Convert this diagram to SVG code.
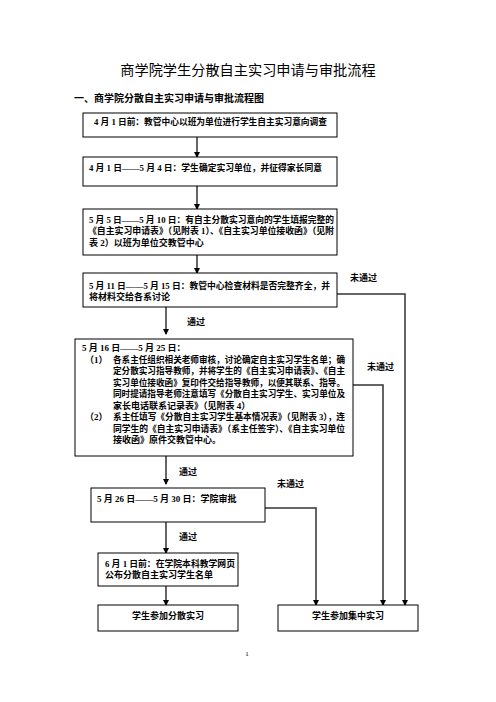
<svg xmlns="http://www.w3.org/2000/svg" width="496" height="702" viewBox="0 0 496 702">
<defs>
<marker id="ah" markerWidth="6" markerHeight="6" refX="5" refY="3" orient="auto" markerUnits="userSpaceOnUse">
<path d="M0,0 L6,3 L0,6 Z" fill="#000"/>
</marker>
<style>
.box{fill:#fff;stroke:#000;stroke-width:1}
.t{font-family:"Liberation Serif","Noto Sans CJK SC",serif;font-size:9px;font-weight:bold;fill:#000}
.c{stroke:#000;stroke-width:1.2;fill:none}
.g{stroke:#333;stroke-width:1.5;fill:none}
.lbl{font-family:"Liberation Serif","Noto Sans CJK SC",serif;font-size:9px;font-weight:bold;fill:#000}
</style>
</defs>
<rect width="496" height="702" fill="#fff"/>
<text x="248" y="75" text-anchor="middle" style="font-family:'Noto Sans CJK SC',sans-serif;font-size:14.2px;fill:#000">商学院学生分散自主实习申请与审批流程</text>
<text x="74" y="102" style="font-family:'Noto Sans CJK SC',sans-serif;font-size:10px;font-weight:bold;fill:#000">一、商学院分散自主实习申请与审批流程图</text>

<g id="connectors">
<line class="c" x1="197" y1="137" x2="197" y2="157" marker-end="url(#ah)"/>
<line class="c" x1="197" y1="186" x2="197" y2="209" marker-end="url(#ah)"/>
<line class="c" x1="197" y1="255" x2="197" y2="273" marker-end="url(#ah)"/>
<line class="c" x1="166" y1="307" x2="166" y2="334" marker-end="url(#ah)"/>
<line class="c" x1="166" y1="456" x2="166" y2="484" marker-end="url(#ah)"/>
<line class="c" x1="166" y1="522" x2="166" y2="553" marker-end="url(#ah)"/>
<line class="c" x1="166" y1="586" x2="166" y2="605" marker-end="url(#ah)"/>
<polyline class="g" points="337,294 405,294 405,605" marker-end="url(#ah)"/>
<polyline class="g" points="353,385 383,385 383,605" marker-end="url(#ah)"/>
<polyline class="g" points="265,508 316,508 316,605" marker-end="url(#ah)"/>
<text class="lbl" x="350" y="281">未通过</text>
<text class="lbl" x="187" y="325">通过</text>
<text class="lbl" x="367" y="370">未通过</text>
<text class="lbl" x="179" y="475">通过</text>
<text class="lbl" x="277" y="487">未通过</text>
<text class="lbl" x="179" y="540">通过</text>
</g>

<g id="n1">
<rect class="box" x="83" y="113" width="254" height="24"/>
<text class="t" x="94" y="124.5" textLength="233" lengthAdjust="spacingAndGlyphs">4 月 1 日前：教管中心以班为单位进行学生自主实习意向调查</text>
</g>
<g id="n2">
<rect class="box" x="83" y="157" width="254" height="29"/>
<text class="t" x="89" y="170.5" textLength="233" lengthAdjust="spacingAndGlyphs">4 月 1 日——5 月 4 日：学生确定实习单位，并征得家长同意</text>
</g>
<g id="n3">
<rect class="box" x="83" y="209" width="254" height="46"/>
<text class="t" x="89" y="222.5" textLength="245" lengthAdjust="spacingAndGlyphs">5 月 5 日——5 月 10 日：有自主分散实习意向的学生填报完整的</text>
<text class="t" x="88" y="233.5" textLength="246" lengthAdjust="spacingAndGlyphs">《自主实习申请表》（见附表 1）、《自主实习单位接收函》（见附</text>
<text class="t" x="89" y="245.5">表 2）以班为单位交教管中心</text>
</g>
<g id="n4">
<rect class="box" x="83" y="273" width="254" height="34"/>
<text class="t" x="89" y="288.5" textLength="241" lengthAdjust="spacingAndGlyphs">5 月 11 日——5 月 15 日：教管中心检查材料是否完整齐全，并</text>
<text class="t" x="89" y="299.5">将材料交给各系讨论</text>
</g>
<g id="n5">
<rect class="box" x="75" y="339" width="278" height="117"/>
<text class="t" x="82" y="350.5">5 月 16 日——5 月 25 日：</text>
<text class="t" x="85" y="362.5">（1）</text>
<text class="t" x="113" y="362.5" textLength="232" lengthAdjust="spacingAndGlyphs">各系主任组织相关老师审核，讨论确定自主实习学生名单；确</text>
<text class="t" x="113" y="374" textLength="232" lengthAdjust="spacingAndGlyphs">定分散实习指导教师，并将学生的《自主实习申请表》、《自主</text>
<text class="t" x="113" y="385.5" textLength="232" lengthAdjust="spacingAndGlyphs">实习单位接收函》复印件交给指导教师，以便其联系、指导。</text>
<text class="t" x="113" y="397" textLength="232" lengthAdjust="spacingAndGlyphs">同时提请指导老师注意填写《分散自主实习学生、实习单位及</text>
<text class="t" x="113" y="408.5">家长电话联系记录表》（见附表 4）</text>
<text class="t" x="85" y="420">（2）</text>
<text class="t" x="113" y="420" textLength="232" lengthAdjust="spacingAndGlyphs">系主任填写《分散自主实习学生基本情况表》（见附表 3），连</text>
<text class="t" x="113" y="431.5" textLength="232" lengthAdjust="spacingAndGlyphs">同学生的《自主实习申请表》（系主任签字）、《自主实习单位</text>
<text class="t" x="113" y="443">接收函》原件交教管中心。</text>
</g>
<g id="n6">
<rect class="box" x="91" y="488" width="174" height="34"/>
<text class="t" x="97" y="501.5">5 月 26 日——5 月 30 日：学院审批</text>
</g>
<g id="n7">
<rect class="box" x="98" y="553" width="140" height="33"/>
<text class="t" x="105" y="566.5" textLength="130" lengthAdjust="spacingAndGlyphs">6 月 1 日前：在学院本科教学网页</text>
<text class="t" x="105" y="578">公布分散自主实习学生名单</text>
</g>
<g id="n8">
<rect class="box" x="98" y="605" width="140" height="26"/>
<text class="t" x="168" y="618.5" text-anchor="middle">学生参加分散实习</text>
</g>
<g id="n9">
<rect class="box" x="278" y="605" width="140" height="26"/>
<text class="t" x="348" y="618.5" text-anchor="middle">学生参加集中实习</text>
</g>
<text x="247" y="656" text-anchor="middle" style="font-family:'Liberation Serif',serif;font-size:7px;fill:#000">1</text>
</svg>
